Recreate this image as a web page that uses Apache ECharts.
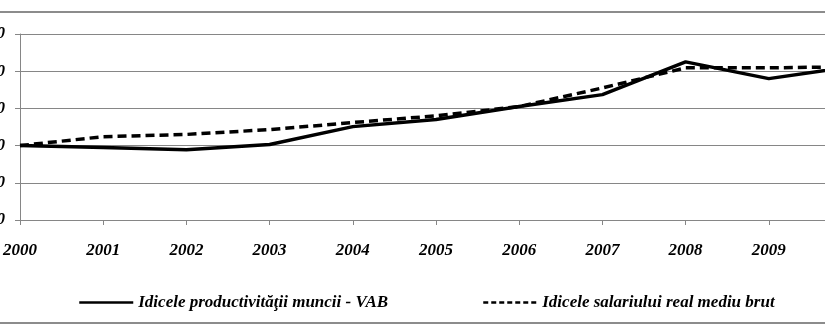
<!DOCTYPE html>
<html><head><meta charset="utf-8">
<script src="https://cdn.jsdelivr.net/npm/echarts@6/dist/echarts.min.js"></script>
<style>html,body{margin:0;padding:0;background:#fff}#c{width:825px;height:334px}</style>
</head><body><div id="c"></div>
<script>
const years = ['2000','2001','2002','2003','2004','2005','2006','2007','2008','2009','2010'];
const productivitate = [100, 99.5, 98.9, 100.3, 105.1, 107.0, 110.5, 113.7, 122.5, 118.0, 121.2];
const salariu = [100, 102.4, 103.0, 104.3, 106.2, 108.0, 110.5, 115.5, 120.9, 120.9, 121.2];
const yTicks = {min: 80, max: 130, interval: 10};
const name1 = 'Idicele productivităţii muncii - VAB';
const name2 = 'Idicele salariului real mediu brut';

const font = {fontFamily: 'Liberation Serif', fontStyle: 'italic', fontWeight: 'bold', color: '#000'};
const chart = echarts.init(document.getElementById('c'), null, {renderer: 'canvas'});
chart.setOption({
  animation: false,
  backgroundColor: '#fff',
  grid: {left: 20, right: -27, top: 34, bottom: 114, containLabel: false, outerBoundsMode: 'none'},
  xAxis: {
    type: 'category', data: years, boundaryGap: false,
    axisLine: {lineStyle: {color: '#868686', width: 1}},
    axisTick: {alignWithLabel: true, length: 5, lineStyle: {color: '#868686'}},
    axisLabel: Object.assign({fontSize: 17, margin: 22, interval: 0}, font),
    splitLine: {show: false}
  },
  yAxis: {
    type: 'value', min: yTicks.min, max: yTicks.max, interval: yTicks.interval,
    axisLine: {show: true, lineStyle: {color: '#868686', width: 1}},
    axisTick: {show: true, length: 5, lineStyle: {color: '#868686'}},
    axisLabel: Object.assign({fontSize: 17, margin: 15}, font),
    splitLine: {lineStyle: {color: '#868686', width: 1}}
  },
  legend: [
    {data: [{name: name1, lineStyle: {width: 2.5, type: 'solid'}, itemStyle: {opacity: 0}}], left: 78, top: 294, padding: 0, itemWidth: 54, itemHeight: 16,
     textStyle: Object.assign({fontSize: 17}, font)},
    {data: [{name: name2, lineStyle: {width: 2.5, type: [5, 3]}, itemStyle: {opacity: 0}}], left: 482, top: 294, padding: 0, itemWidth: 54, itemHeight: 16,
     textStyle: Object.assign({fontSize: 17}, font)}
  ],
  graphic: [
    {type: 'line', shape: {x1: 0, y1: 12, x2: 825, y2: 12}, style: {stroke: '#8c8c8c', lineWidth: 2}},
    {type: 'line', shape: {x1: 0, y1: 323, x2: 825, y2: 323}, style: {stroke: '#8c8c8c', lineWidth: 2}}
  ],
  series: [
    {name: name1, type: 'line', data: productivitate, symbol: 'none', lineStyle: {color: '#000', width: 3.5}, itemStyle: {color: '#000'}},
    {name: name2, type: 'line', data: salariu, symbol: 'none', lineStyle: {color: '#000', width: 3.5, type: [9, 5]}, itemStyle: {color: '#000'}}
  ]
});
</script></body></html>
